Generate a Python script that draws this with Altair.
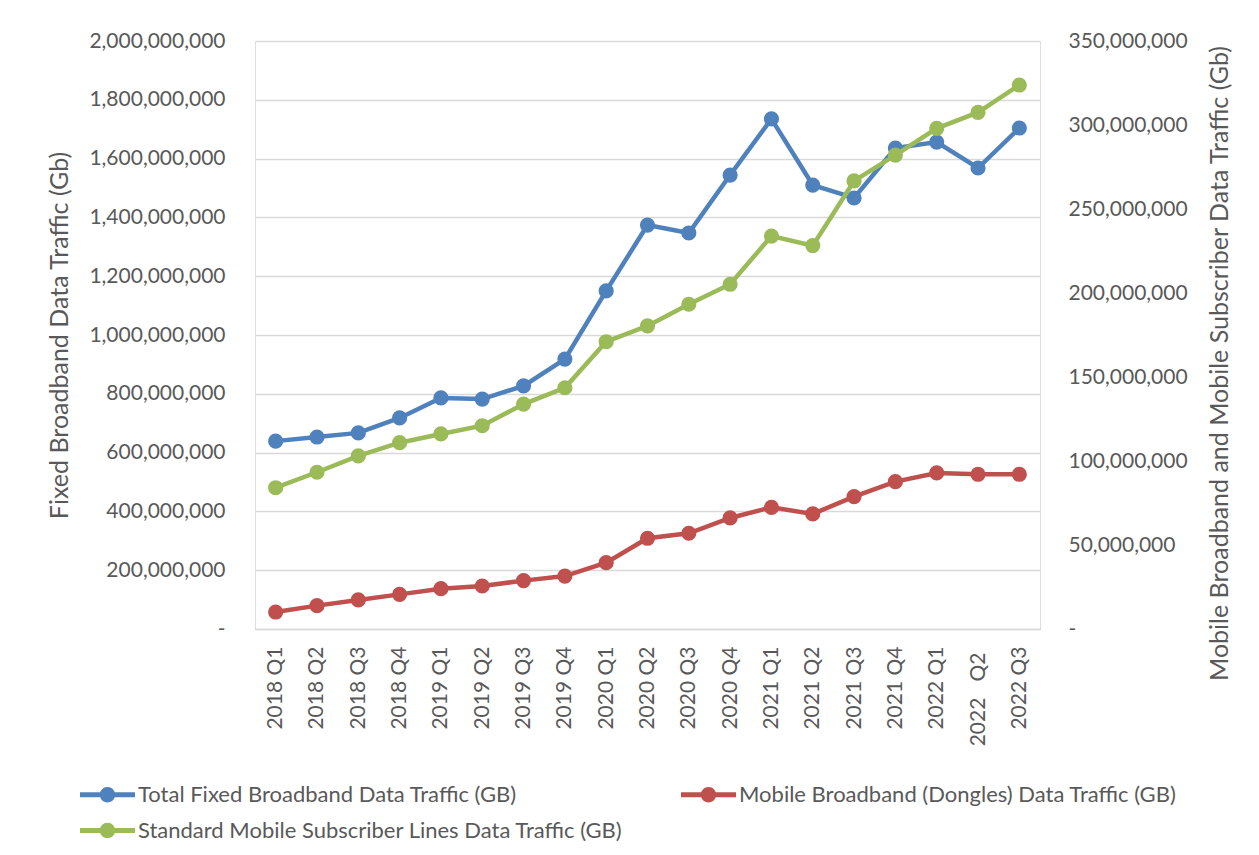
import altair as alt
import pandas as pd

quarters = ["2018 Q1", "2018 Q2", "2018 Q3", "2018 Q4",
            "2019 Q1", "2019 Q2", "2019 Q3", "2019 Q4",
            "2020 Q1", "2020 Q2", "2020 Q3", "2020 Q4",
            "2021 Q1", "2021 Q2", "2021 Q3", "2021 Q4",
            "2022 Q1", "2022\u00a0\u00a0\u00a0Q2", "2022 Q3"]

# values in Gb
fixed_total = [639e6, 653e6, 667e6, 718e6, 786e6, 782e6, 827e6, 918e6,
               1150e6, 1374e6, 1347e6, 1544e6, 1735e6, 1510e6, 1466e6, 1636e6,
               1656e6, 1568e6, 1704e6]
dongles = [10.1e6, 13.9e6, 17.3e6, 20.6e6, 24.0e6, 25.6e6, 28.8e6, 31.5e6,
           39.5e6, 54.0e6, 57.0e6, 66.1e6, 72.4e6, 68.5e6, 78.8e6, 87.7e6,
           92.9e6, 92.1e6, 92.1e6]
mobile_lines = [84.1e6, 93.3e6, 103.0e6, 110.9e6, 116.1e6, 121.0e6, 133.9e6, 143.6e6,
                171.0e6, 180.4e6, 193.3e6, 205.2e6, 233.9e6, 228.2e6, 266.7e6, 282.1e6,
                298.0e6, 307.5e6, 323.8e6]

name_fixed = "Total Fixed Broadband Data Traffic (GB)"
name_dongles = "Mobile Broadband (Dongles) Data Traffic (GB)"
name_mobile = "Standard Mobile Subscriber Lines Data Traffic (GB)"
# legend is filled column by column: first column Total / Standard, second Mobile Broadband
legend_order = [name_fixed, name_mobile, name_dongles]
legend_colors = ["#4F81BD", "#9BBB59", "#C0504D"]

left_title = "Fixed Broadband Data Traffic (Gb)"
right_title = "Mobile Broadband and Mobile Subscriber Data Traffic (Gb)"

df_left = pd.DataFrame({"quarter": quarters, "value": fixed_total, "series": name_fixed})
df_right = pd.concat([
    pd.DataFrame({"quarter": quarters, "value": dongles, "series": name_dongles}),
    pd.DataFrame({"quarter": quarters, "value": mobile_lines, "series": name_mobile}),
])

FONT = "Lato"
TXT = "#595959"

x_enc = alt.X("quarter:N", sort=quarters, title=None,
              scale=alt.Scale(padding=0.5),
              axis=alt.Axis(labelAngle=-90, labelFontSize=21, labelColor=TXT, labelFont=FONT,
                            ticks=False, domain=True, domainColor="#D9D9D9", domainWidth=1.5,
                            labelPadding={"condition": {"test": f"datum.value == '{quarters[17]}'",
                                                        "value": 23}, "value": 17},
                            grid=False))

color_scale = alt.Scale(domain=legend_order, range=legend_colors)

# line with a dot, wider than the unit box so rows can stay close together
legend_path = ("M-1.57,-0.14 L1.57,-0.14 L1.57,0.14 L-1.57,0.14 Z "
               "M-0.44,0 A0.44,0.44 0 1,1 0.44,0 A0.44,0.44 0 1,1 -0.44,0 Z")

legend = alt.Legend(title=None, orient="none", legendX=-165, legendY=736,
                    columns=2, columnPadding=58, rowPadding=7,
                    symbolType=legend_path, symbolSize=1225, symbolOpacity=1,
                    symbolStrokeWidth=0, labelFont=FONT, labelFontSize=22,
                    labelColor=TXT, labelLimit=0, labelOffset=13, padding=0)

color_enc = alt.Color("series:N", scale=color_scale, legend=legend)

left_axis = alt.Axis(orient="left", values=list(range(0, 2000000001, 200000000)),
                     labelExpr="datum.value == 0 ? '-\u00a0\u00a0\u00a0\u00a0' : format(datum.value, ',')",
                     labelFontSize=21, labelColor=TXT, labelFont=FONT, labelPadding=30,
                     ticks=False, domain=False, grid=True, gridColor="#D9D9D9", gridWidth=1.5,
                     title=left_title, titleFontSize=25, titleFont=FONT, titleColor=TXT,
                     titleFontWeight="normal", titlePadding=16)

right_axis = alt.Axis(orient="right", values=list(range(0, 350000001, 50000000)),
                      labelExpr="datum.value == 0 ? '\u00a0-' : format(datum.value, ',')",
                      labelFontSize=21, labelColor=TXT, labelFont=FONT, labelPadding=28,
                      ticks=False, domain=False, grid=False,
                      title=right_title, titleFontSize=25, titleFont=FONT, titleColor=TXT,
                      titleFontWeight="normal", titlePadding=20,
                      titleAngle=270, titleBaseline="top", titleY=322)

y_left = alt.Y("value:Q", scale=alt.Scale(domain=[0, 2000000000], nice=False), axis=left_axis)
y_right = alt.Y("value:Q", scale=alt.Scale(domain=[0, 350000000], nice=False), axis=right_axis)

left_line = alt.Chart(df_left).mark_line(strokeWidth=4.5).encode(
    x=x_enc, y=y_left, color=color_enc)
left_pts = alt.Chart(df_left).mark_circle(size=230, opacity=1).encode(
    x=x_enc, y=y_left, color=color_enc)

right_line = alt.Chart(df_right).mark_line(strokeWidth=4.5).encode(
    x=x_enc, y=y_right, color=color_enc, detail="series:N")
right_pts = alt.Chart(df_right).mark_circle(size=230, opacity=1).encode(
    x=x_enc, y=y_right, color=color_enc)

chart = alt.layer(
    alt.layer(left_line, left_pts),
    alt.layer(right_line, right_pts),
).resolve_scale(y="independent").properties(
    width=785, height=588,
    autosize=alt.AutoSizeParams(type="none"),
    padding={"left": 247, "top": 33, "right": 211, "bottom": 218},
).configure_view(strokeWidth=0, stroke="transparent").configure(background="white")

chart.save("out.html", embed_options={"renderer": "svg", "actions": False})
